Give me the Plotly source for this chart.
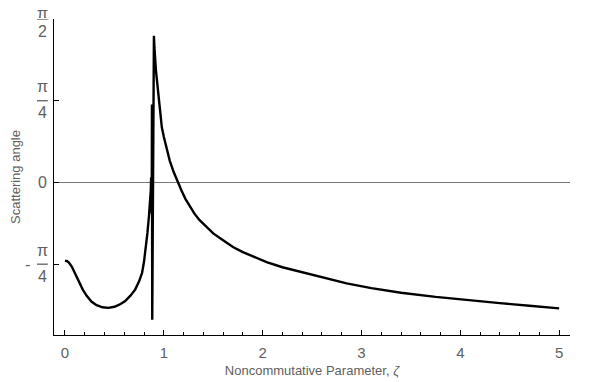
import numpy as np
import plotly.graph_objects as go

# scattering angle vs noncommutative parameter
zeta = [0.00, 0.02, 0.04, 0.07, 0.10, 0.14, 0.18, 0.22, 0.27, 0.32, 0.38, 0.44,
        0.50, 0.55, 0.61, 0.66, 0.71, 0.75, 0.78, 0.80, 0.82, 0.835, 0.85, 0.86,
        0.868, 0.872, 0.875, 0.878, 0.880, 0.883, 0.900,
        0.905, 0.92, 0.94, 0.96, 0.98, 1.00, 1.03, 1.06, 1.10, 1.14, 1.18, 1.22,
        1.265, 1.31, 1.36, 1.43, 1.50, 1.60, 1.70, 1.80, 1.92, 2.04, 2.20, 2.38,
        2.60, 2.85, 3.10, 3.40, 3.75, 4.10, 4.40, 4.70, 5.00]
angle = [-0.754, -0.755, -0.77, -0.81, -0.87, -0.95, -1.03, -1.09, -1.147, -1.18,
         -1.20, -1.205, -1.195, -1.175, -1.14, -1.09, -1.03, -0.95, -0.87, -0.76,
         -0.62, -0.48, -0.32, -0.20, -0.08, 0.05, 0.75, -0.30, 0.75, -1.32, 1.41,
         1.30, 1.08, 0.88, 0.68, 0.53, 0.44, 0.31, 0.21, 0.10, 0.00, -0.08, -0.16,
         -0.236, -0.30, -0.36, -0.43, -0.49, -0.555, -0.62, -0.67, -0.72, -0.765,
         -0.815, -0.86, -0.915, -0.97, -1.015, -1.06, -1.10, -1.135, -1.16, -1.185,
         -1.21]

y_ticks = [np.pi / 2, np.pi / 4, 0, -np.pi / 4]
y_num = ["π", "π", "0", "π"]
y_den = ["2", "4", "", "4"]
y_sign = ["", "", "", "-"]

x_ticks = [0, 1, 2, 3, 4, 5]

gray = "#606060"
font = "Liberation Sans, Arial, sans-serif"

fig = go.Figure()
fig.add_trace(go.Scatter(x=zeta, y=angle, mode="lines",
                         line=dict(color="black", width=2.4)))

# y tick labels drawn as stacked fractions
bx0, bx1 = -0.033, -0.012
xc = (bx0 + bx1) / 2
lab = dict(xref="paper", yref="y", showarrow=False, xanchor="center", yanchor="middle",
           font=dict(size=16, color=gray, family=font))
for v, num, den, sgn in zip(y_ticks, y_num, y_den, y_sign):
    if den == "":
        fig.add_annotation(x=xc, y=v, text=num, **lab)
        continue
    if v > 1.5:
        # top label has no room above the plot, squeeze it a bit
        fig.add_annotation(x=xc, y=v, text=num, yshift=6, height=10, **lab)
    else:
        fig.add_annotation(x=xc, y=v, text=num, yshift=14, **lab)
    fig.add_annotation(x=xc, y=v, text=den, yshift=-12, **lab)
    fig.add_shape(type="line", xref="paper", yref="y", x0=bx0, x1=bx1, y0=v, y1=v,
                  line=dict(color=gray, width=1.3))
    if sgn:
        fig.add_annotation(x=-0.052, y=v, text=sgn, **lab)

# page body adds 8px around the plot, so size the figure to the leftover space
fig.update_layout(
    width=592, height=374,
    margin=dict(l=46, r=30, t=11, b=47),
    plot_bgcolor="white", paper_bgcolor="white",
    showlegend=False,
    font=dict(family=font, color=gray),
)
fig.update_xaxes(
    range=[-0.111, 5.11], showgrid=False, zeroline=False, automargin=False,
    showline=True, linecolor="black", linewidth=1,
    tickvals=x_ticks, ticks="inside", ticklen=5, tickcolor="black",
    tickfont=dict(size=15, color=gray), ticklabelstandoff=4,
    minor=dict(dtick=0.2, tick0=0, ticks="inside", ticklen=3, tickcolor="black"),
    title=dict(text="Noncommutative Parameter, <i>ζ</i>", font=dict(size=13, color=gray),
               standoff=5),
)
fig.update_yaxes(
    range=[-1.466, np.pi / 2], showgrid=False, automargin=False,
    zeroline=True, zerolinecolor="#777777", zerolinewidth=1,
    showline=True, linecolor="black", linewidth=1,
    tickvals=y_ticks, ticks="inside", ticklen=5, tickcolor="black",
    showticklabels=False,
    title=dict(text="Scattering angle", font=dict(size=13, color=gray), standoff=31),
)

fig.write_html("out.html")
